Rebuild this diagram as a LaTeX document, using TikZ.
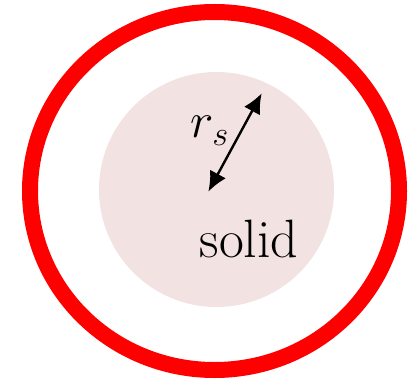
\documentclass[tikz,border=0pt]{standalone}
\usetikzlibrary{arrows.meta}
\definecolor{solidpink}{RGB}{243,226,226}
\begin{document}
\begin{tikzpicture}[x=0.5pt, y=-0.5pt,
    every node/.style={inner sep=0pt, font=\fontsize{27}{32}\selectfont}]
    \useasboundingbox (0,0) rectangle (411,379);
    \node[circle, fill=solidpink, minimum size=117.5pt] (solid) at (216.5,189.5) {};
    \draw[red, line width=8pt] (214.5,191) ellipse [x radius=92.25pt, y radius=89.5pt];
    \node[anchor=base] (lbl) at (249,257) {solid};
    \node[anchor=base west] (rs) at (190,138) {$r_s$};

    % radius arrow
    \coordinate (rin) at (208.3,191.7);
    \coordinate (rout) at (261.7,93.3);
    \draw[{Latex[length=10pt,width=9pt]}-{Latex[length=10pt,width=9pt]}, line width=1.2pt] (rin) -- (rout);
\end{tikzpicture}
\end{document}
